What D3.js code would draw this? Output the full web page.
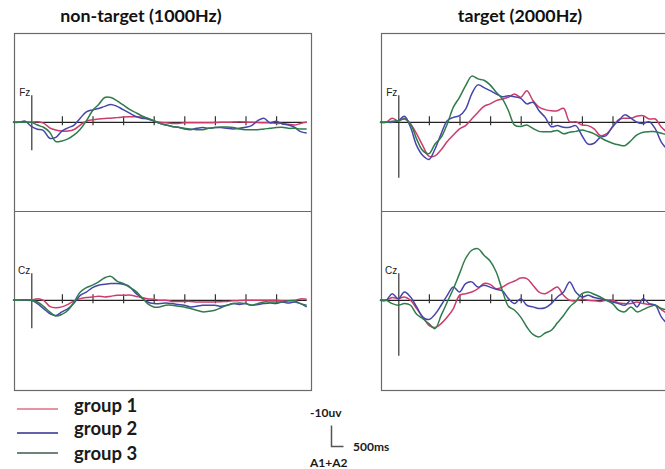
<!DOCTYPE html>
<html>
<head>
<meta charset="utf-8">
<script src="https://cdn.jsdelivr.net/npm/d3@7"></script>
<style>
  html, body { margin: 0; padding: 0; background: #fff; overflow: hidden; }
  svg { display: block; }
</style>
</head>
<body>
<svg id="chart" width="665" height="469"></svg>
<script>
// ---- data -------------------------------------------------------------
const conditions = ["non-target (1000Hz)", "target (2000Hz)"];
const electrodes = ["Fz", "Cz"];
const groups = ["group 1", "group 2", "group 3"];
const groupColors = ["#cc3d6c", "#4646aa", "#2f7c4b"];
const legendColors = ["#e07080", "#2e2e8c", "#3f5b4a"];

// sample times (ms) of the averaged waveforms
const times = [-60, -40, -20, 0, 20, 40, 60, 80, 100, 120, 140, 160, 180, 200, 220, 240,
  260, 280, 300, 320, 340, 360, 380, 400, 420, 440, 460, 480, 500, 520, 540, 560, 580,
  600, 620, 640, 660, 680, 700, 720, 740, 760, 780, 800, 820, 840, 860, 880, 900];
const tickTimes = [100, 200, 300, 400, 500, 600, 700, 800];

// amplitudes in µV (negative plotted upward)
const nonTargetFz1 = [0, 0, 0, 0, -0.2, 0.3, 2.0, 2.8, 3.2, 3.2, 2.6, 1.0, -0.4, -0.9, -1.2, -1.4,
  -1.5, -1.7, -1.9, -2.0, -2.0, -1.9, -1.4, -0.5, 0, 0.2, 0.4, 0.4, 0.2, 0.2, 0.2, 0.2, 0.2,
  0.1, 0, 0, -0.1, -0.2, -0.1, 0, 0.1, 0.2, 0.2, 0.4, 0.4, 0.7, 1.0, 0.4, -0.1];
const nonTargetFz2 = [0, 0, -0.4, 1.5, 2.5, 3.0, 5.8, 5.5, 3.2, 2.0, 1.0, -1.5, -3.8, -4.5, -5.0, -5.8,
  -6.5, -5.8, -4.6, -3.4, -2.2, -1.5, -1.2, -0.5, 0.4, 1.0, 1.5, 1.8, 2.4, 2.7, 2.2, 1.9, 2.2,
  1.9, 1.9, 2.2, 2.4, 2.2, 1.8, 1.2, -0.6, -1.5, 0.2, -0.4, 0.6, 1.0, 1.8, 3.4, 3.9];
const nonTargetFz3 = [0, 0, 0, 0, 1.0, 1.8, 3.6, 7.0, 6.8, 6.0, 4.6, 2.5, -0.5, -4.2, -6.5, -9.0,
  -9.0, -7.8, -6.3, -4.8, -3.6, -2.4, -1.5, -0.6, 0.4, 1.0, 1.5, 1.8, 2.2, 2.4, 2.7, 2.7, 2.2,
  1.9, 1.7, 1.7, 1.9, 2.4, 2.7, 2.7, 2.7, 2.4, 2.2, 1.9, 1.8, 2.2, 2.2, 2.4, 2.4];

const nonTargetCz1 = [0, 0, 0, 0, -0.6, 0, 2.2, 2.7, 2.4, 1.5, 0.2, -0.6, -1.0, -1.2, -1.5, -1.2,
  -1.5, -1.8, -1.8, -1.9, -1.5, -1.0, -0.6, -0.4, 0, 0, 0.4, 0.4, 0.4, 0.4, 0.6, 0.6, 0.6,
  0.6, 0.5, 0.4, 0.2, 0.1, 0, 0, 0, 0, 0, 0, 0.2, 0.2, 0, -0.5, -0.4];
const nonTargetCz2 = [0, 0, -0.2, 0, 1.2, 3.0, 4.8, 5.5, 4.2, 3.0, 1.0, -1.8, -3.0, -4.6, -5.5, -5.8,
  -6.1, -6.1, -5.8, -5.1, -2.7, -1.0, 0.6, 1.2, 1.2, 1.0, 1.2, 1.5, 1.8, 2.4, 2.2, 1.8, 1.8,
  1.8, 2.2, 1.8, 1.2, 1.5, 1.2, 1.8, 1.5, 1.2, 1.0, 1.2, 0.6, 1.0, 0.6, 1.2, 2.4];
const nonTargetCz3 = [0, 0, -0.2, 0, 0.6, 2.2, 4.2, 5.7, 5.1, 3.6, 0.6, -3.0, -4.6, -5.5, -6.7, -8.2,
  -8.7, -7.0, -6.1, -4.8, -3.4, -1.2, 1.2, 2.4, 2.4, 1.8, 1.8, 2.2, 2.4, 3.0, 3.6, 4.2, 4.0,
  3.6, 2.7, 1.8, 1.2, 1.0, 1.2, 1.8, 1.2, 0.6, 0.6, 0.6, 0.6, 0.2, 0.2, 1.2, 1.8];

const targetFz1 = [0, 0, -1.5, -0.4, -1.5, 0.6, 4.2, 8.5, 12.3, 12.2, 10.0, 7.0, 4.6, 2.4, 1.2, -1.2,
  -3.6, -5.8, -6.7, -7.9, -8.5, -9.1, -10.3, -9.1, -11.5, -7.9, -5.5, -4.6, -4.2, -4.2, -5.1, -0.2, -0.2,
  1.0, 1.2, 2.4, 4.8, 4.2, 1.8, -1.0, -1.5, -1.5, -2.2, -2.4, -1.2, -1.2, 1.8, 3.6, 4.2];
const targetFz2 = [0, 0, 0, -0.6, -2.2, 1.8, 8.5, 12.1, 13.5, 9.7, 4.2, -0.6, -1.8, -2.4, -4.8, -10.3,
  -13.6, -12.6, -11.5, -10.3, -9.3, -9.7, -9.3, -8.7, -6.7, -7.3, -4.2, -1.8, 1.6, 1.2, 1.8, 1.8, 1.2,
  4.8, 7.9, 7.6, 5.5, 4.8, 1.5, -0.6, -2.7, -1.5, 0, 0.4, -0.2, 2.4, 7.3, 9.7, 10.3];
const targetFz3 = [0, 0, -0.4, -0.6, -1.2, 0.6, 6.1, 10.3, 11.4, 7.9, 5.5, 0.6, -5.5, -9.1, -13.3, -16.8,
  -15.8, -15.3, -13.6, -10.9, -8.5, -4.2, 1.0, 1.5, 1.0, 2.2, 3.3, 3.4, 3.4, 3.0, 4.2, 3.6, 3.3,
  2.8, 3.4, 4.2, 5.5, 6.7, 7.6, 8.2, 8.5, 6.7, 4.6, 3.6, 3.4, 3.4, 4.0, 4.6, 4.8];

const targetCz1 = [0, 0, -1.0, -0.6, -1.2, 0, 3.0, 6.1, 9.1, 9.9, 8.5, 6.1, 3.0, -1.8, -2.4, -3.0,
  -4.2, -6.1, -5.8, -4.2, -4.8, -6.1, -7.0, -8.1, -7.9, -5.5, -3.0, -2.4, -3.6, -4.8, -1.8, 0, 0.2,
  -0.4, 0, 0.2, 0.4, 0, 0, 1.0, 1.2, 1.2, 0.6, 1.2, 1.5, 1.8, 3.4, 4.8, 5.5];
const targetCz2 = [0, 0, -2.4, -0.6, -3.0, -1.2, 2.4, 6.1, 7.0, 5.1, 1.8, -1.8, -4.8, -3.0, -6.1, -6.7,
  -4.8, -5.5, -4.8, -4.0, -3.4, -0.6, 1.2, -0.6, 1.8, 2.4, 3.0, 2.7, 1.2, -1.2, -3.0, -6.7, -3.0,
  -1.2, -1.8, -1.0, -0.6, 0, 0.6, 1.2, 1.8, 0, 2.4, -0.6, 1.2, 1.8, 6.1, 8.5, 9.7];
const targetCz3 = [0, 0, 1.2, 1.8, 1.2, 1.8, 5.1, 6.7, 8.5, 10.3, 5.5, 0.6, -4.2, -9.7, -15.2, -18.2,
  -18.8, -16.4, -14.3, -10.3, -3.6, 2.2, 3.6, 6.1, 9.7, 12.4, 13.3, 11.9, 10.9, 8.2, 5.5, 2.4, 0.4,
  -2.4, -3.0, -2.2, -1.2, 0, 1.2, 3.6, 4.2, 2.4, 4.2, 3.4, 2.4, 1.8, 3.0, 3.6, 4.2];

// panel table built from the arrays above
const panels = [
  { col: 0, row: 0, label: electrodes[0], series: [nonTargetFz1, nonTargetFz2, nonTargetFz3], ext: [-10, 10] },
  { col: 0, row: 1, label: electrodes[1], series: [nonTargetCz1, nonTargetCz2, nonTargetCz3], ext: [-10, 10] },
  { col: 1, row: 0, label: electrodes[0], series: [targetFz1, targetFz2, targetFz3], ext: [-10, 20] },
  { col: 1, row: 1, label: electrodes[1], series: [targetCz1, targetCz2, targetCz3], ext: [-10, 20] }
];

// ---- layout -----------------------------------------------------------
const svg = d3.select("#chart");
const colLeft = [14, 381];
const colWidth = 297;
const rowTop = [33, 211];
const boxTop = 33, boxBottom = 390;
const onsetOffset = 17.3;     // stimulus onset from the box's left edge
const baseOffset = 89.3;      // zero line from the row's top
const pxPerMs = 0.306;
const pxPerUv = 2.75;

// column frames
colLeft.forEach(x0 => {
  svg.append("rect")
    .attr("x", x0 + 0.5).attr("y", boxTop + 0.5)
    .attr("width", colWidth).attr("height", boxBottom - boxTop)
    .attr("fill", "none").attr("stroke", "#6a6a6a").attr("stroke-width", 1.2);
  svg.append("line")
    .attr("x1", x0).attr("x2", x0 + colWidth)
    .attr("y1", rowTop[1] + 0.5).attr("y2", rowTop[1] + 0.5)
    .attr("stroke", "#6a6a6a").attr("stroke-width", 1.2);
});

// column titles
const titleX = [141, 520];
conditions.forEach((c, i) => {
  svg.append("text")
    .attr("x", titleX[i]).attr("y", 22)
    .attr("text-anchor", "middle")
    .attr("font-family", "Lato, 'Open Sans', sans-serif")
    .attr("font-weight", 700).attr("font-size", 17.8)
    .attr("fill", "#111")
    .text(c);
});

panels.forEach(p => {
  const onsetX = colLeft[p.col] + onsetOffset;
  const baseY = rowTop[p.row] + baseOffset;
  const x = d3.scaleLinear()
    .domain([0, 100])
    .range([onsetX, onsetX + 100 * pxPerMs]);
  const y = d3.scaleLinear()
    .domain([0, 10])
    .range([baseY, baseY + 10 * pxPerUv]);

  const g = svg.append("g");

  // time axis along the zero line
  const xAxis = d3.axisBottom(x)
    .tickValues(tickTimes)
    .tickFormat("")
    .tickSizeInner(3)
    .tickSizeOuter(0);
  const xa = g.append("g")
    .attr("transform", `translate(0,${baseY})`)
    .call(xAxis);
  xa.select(".domain")
    .attr("d", `M${x(times[0])},0H${x(times[times.length - 1])}`)
    .attr("stroke", "#222").attr("stroke-width", 1.3);
  xa.selectAll(".tick line")
    .attr("y1", -6).attr("y2", 3)
    .attr("stroke", "#333").attr("stroke-width", 1.2);

  // amplitude axis at stimulus onset
  const yAxis = d3.axisLeft(d3.scaleLinear().domain(p.ext).range([y(p.ext[0]), y(p.ext[1])]))
    .tickValues([])
    .tickSizeOuter(0);
  const ya = g.append("g")
    .attr("transform", `translate(${onsetX},0)`)
    .call(yAxis);
  ya.select(".domain").attr("stroke", "#333").attr("stroke-width", 1.2);

  // electrode label
  g.append("text")
    .attr("x", onsetX - 1).attr("y", y(p.ext[0]) + 1)
    .attr("text-anchor", "end")
    .attr("font-family", "'Liberation Sans', Arial, sans-serif")
    .attr("font-size", 10)
    .attr("fill", "#222")
    .text(p.label);

  // waveforms
  const line = d3.line()
    .x((d, i) => x(times[i]))
    .y(d => y(d))
    .curve(d3.curveCatmullRom.alpha(0.5));
  p.series.forEach((s, k) => {
    g.append("path")
      .datum(s)
      .attr("d", line)
      .attr("fill", "none")
      .attr("stroke", groupColors[k])
      .attr("stroke-width", 1.5)
      .attr("stroke-linejoin", "round");
  });
});

// legend
const legendY = [409, 433, 453];
const legendTextY = [412, 435, 460];
groups.forEach((name, i) => {
  svg.append("line")
    .attr("x1", 17).attr("x2", 58)
    .attr("y1", legendY[i]).attr("y2", legendY[i])
    .attr("stroke", legendColors[i]).attr("stroke-width", 1.4);
  svg.append("text")
    .attr("x", 74).attr("y", legendTextY[i])
    .attr("font-family", "Lato, 'Open Sans', sans-serif")
    .attr("font-weight", 700).attr("font-size", 18.5)
    .attr("fill", "#1a1a1a")
    .text(name);
});

// calibration bar
const cal = svg.append("g");
cal.append("path")
  .attr("d", "M331.5,425.5V446.5H343.5")
  .attr("fill", "none").attr("stroke", "#555").attr("stroke-width", 1.5);
const calText = [["-10uv", 310, 417], ["500ms", 353, 451], ["A1+A2", 310, 467]];
calText.forEach(([t, tx, ty]) => {
  cal.append("text")
    .attr("x", tx).attr("y", ty)
    .attr("font-family", "Lato, 'Open Sans', sans-serif")
    .attr("font-weight", 700).attr("font-size", 12)
    .attr("fill", "#1a1a1a")
    .text(t);
});
</script>
</body>
</html>
